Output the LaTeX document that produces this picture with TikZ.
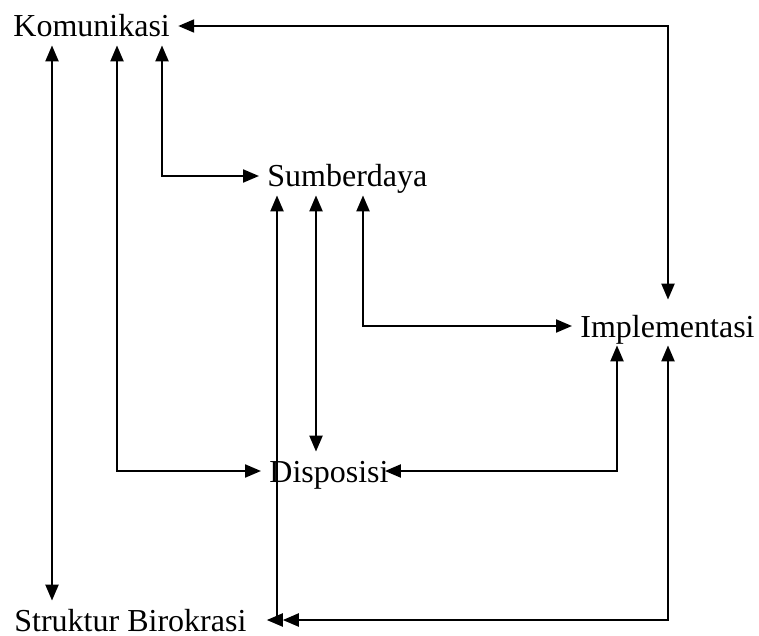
\documentclass[tikz,border=0pt]{standalone}
\usepackage{fontspec}
\setmainfont{Liberation Serif}
\usetikzlibrary{positioning, calc, arrows.meta}
\tikzset{
    factor/.style={anchor=base west, inner sep=4pt, text height=11pt, text depth=0pt, font=\fontsize{16}{19}\selectfont},
    twoway/.style={{Triangle[length=8pt,width=6.5pt]}-{Triangle[length=8pt,width=6.5pt]}, line width=1.1pt},
}
\begin{document}
\begin{tikzpicture}[x=0.5pt, y=-0.5pt]
        \useasboundingbox (0,0) rectangle (759,636);

        % Factors
        \node[factor] (kom) at (5,37) {Komunikasi};
        \node[factor] (sum) at (259,187) {Sumberdaya};
        \node[factor] (imp) at (572,337) {Implementasi};
        \node[factor] (dis) at (261,482) {Disposisi};
        \node[factor] (str) at (6,631) {Struktur Birokrasi};

        % Links
        \draw[twoway] (kom.east) -| ([yshift=3.5pt]imp.north -| 668,0);
        \draw[twoway] (kom.south -| 52,0) -- (str.north -| 52,0);
        \draw[twoway] (kom.south -| 117,0) |- (dis.west);
        \draw[twoway] (kom.south -| 162,0) |- (sum.west);
        \draw[twoway] (sum.south -| 316,0) -- (dis.north -| 316,0);
        \draw[twoway] (sum.south -| 363,0) |- (imp.west);
        \draw[twoway] (imp.south -| 617,0) |- ([xshift=-6pt]dis.east);
        \draw[twoway] (imp.south -| 668,0) |- ([xshift=14pt]str.east);
        \draw[twoway] (sum.south -| 277,0) |- ([xshift=6pt]str.east);
    \end{tikzpicture}
\end{document}
